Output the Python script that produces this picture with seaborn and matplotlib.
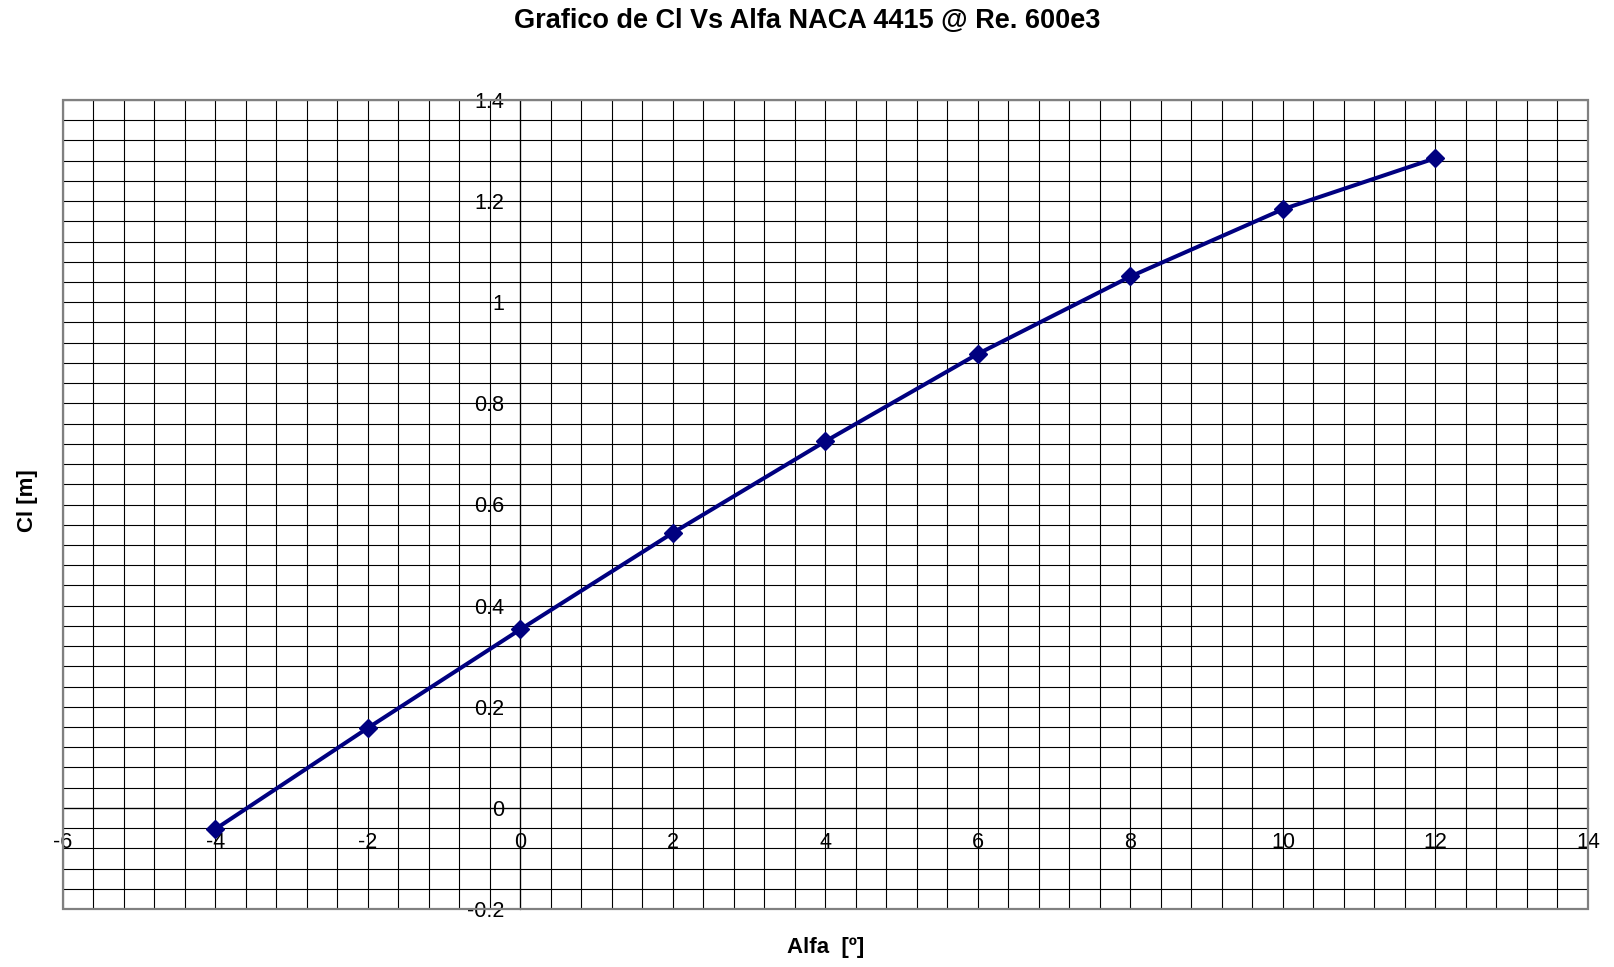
import matplotlib
matplotlib.use("Agg")
import matplotlib.pyplot as plt
from matplotlib.patches import Rectangle
from matplotlib.ticker import MultipleLocator, FormatStrFormatter
import seaborn as sns
import pandas as pd

# Lift coefficient of the NACA 4415 profile at Re = 600e3
alfa = [-4, -2, 0, 2, 4, 6, 8, 10, 12]
cl = [-0.042, 0.158, 0.353, 0.544, 0.725, 0.898, 1.051, 1.184, 1.285]

x_ticks = [-6, -4, -2, 0, 2, 4, 6, 8, 10, 12, 14]
y_ticks = [-0.2, 0, 0.2, 0.4, 0.6, 0.8, 1.0, 1.2, 1.4]

title = "Grafico de Cl Vs Alfa NACA 4415 @ Re. 600e3"
x_label = "Alfa  [º]"
y_label = "Cl [m]"

sns.set_theme(style="white")
plt.rcParams["font.family"] = ["Liberation Sans", "DejaVu Sans"]
plt.rcParams["axes.unicode_minus"] = False
plt.rcParams["text.color"] = "black"

df = pd.DataFrame({"alfa": alfa, "cl": cl})

W, H = 1614, 967
fig = plt.figure(figsize=(W / 100, H / 100), dpi=100)
ax = fig.add_axes([62.8 / W, 1 - 909 / H, (1588 - 62.8) / W, (909 - 100) / H])

ax.set_xlim(x_ticks[0], x_ticks[-1])
ax.set_ylim(y_ticks[0], y_ticks[-1])

# Fine graph-paper grid
ax.xaxis.set_major_locator(MultipleLocator(2))
ax.xaxis.set_minor_locator(MultipleLocator(0.4))
ax.yaxis.set_major_locator(MultipleLocator(0.2))
ax.yaxis.set_minor_locator(MultipleLocator(0.04))
ax.grid(True, which="both", color="black", linewidth=0.8)
ax.set_axisbelow(True)

sns.lineplot(data=df, x="alfa", y="cl", ax=ax, color="#000080", linewidth=2.9,
             marker="D", markersize=9, markeredgecolor="#000080",
             markeredgewidth=1, zorder=5)

# Axes cross at the origin
ax.spines["left"].set_position(("data", 0))
ax.spines["bottom"].set_position(("data", 0))
for side in ("left", "bottom"):
    ax.spines[side].set_color("black")
    ax.spines[side].set_linewidth(0.9)
    ax.spines[side].set_zorder(3)
for side in ("top", "right"):
    ax.spines[side].set_visible(False)

# Grey plot-area frame
ax.add_patch(Rectangle((0, 0), 1, 1, transform=ax.transAxes, fill=False,
                       edgecolor="#808080", linewidth=1.6, zorder=4,
                       clip_on=False))

ax.yaxis.set_major_formatter(FormatStrFormatter("%g"))
ax.xaxis.set_major_formatter(FormatStrFormatter("%g"))
ax.tick_params(axis="both", which="major", direction="out", length=5.5,
               width=0.9, color="black", labelsize=15.5, labelcolor="black")
ax.tick_params(axis="x", which="major", pad=12)
ax.tick_params(axis="y", which="major", pad=6)
ax.tick_params(axis="both", which="minor", length=0)
ax.set_xlabel("")
ax.set_ylabel("")

fig.text(0.5, 1 - 21 / H, title, ha="center", va="center",
         fontsize=19.5, fontweight="bold", color="black")
fig.text(826 / W, 1 - 948 / H, x_label, ha="center", va="center",
         fontsize=16, fontweight="bold", color="black")
fig.text(28 / W, 1 - 501 / H, y_label, ha="center", va="center",
         rotation=90, fontsize=16, fontweight="bold", color="black")

fig.savefig("out.png", dpi=100, facecolor="white")
